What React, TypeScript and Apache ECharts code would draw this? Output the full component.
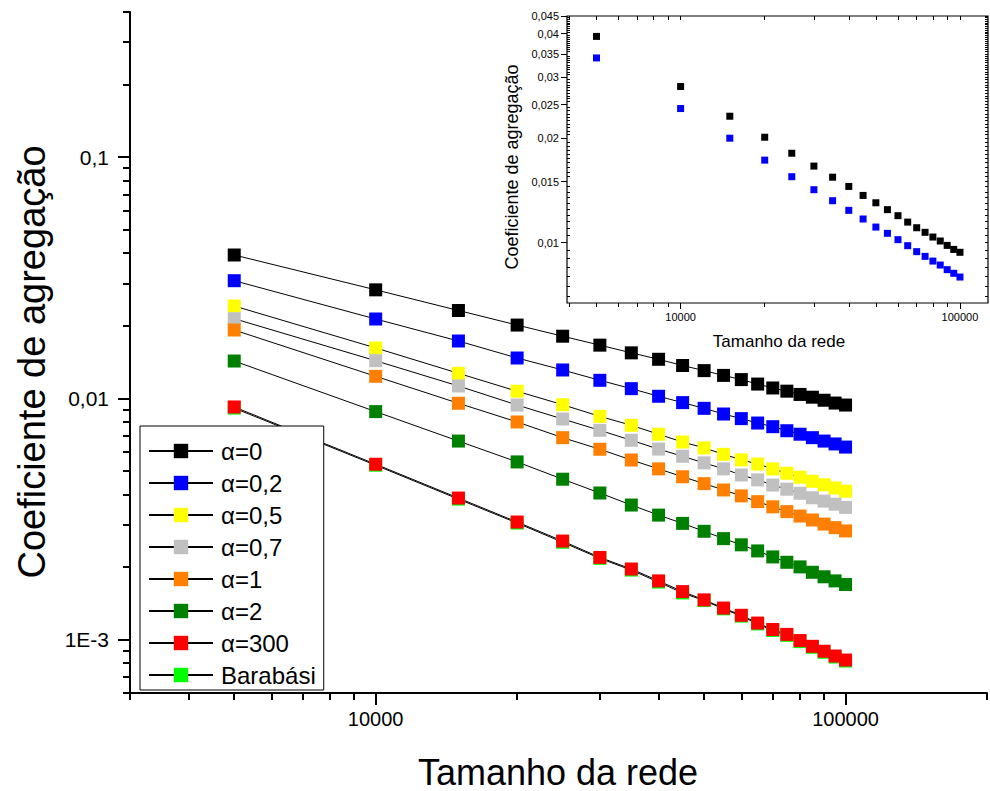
import React, { useEffect, useRef } from "react";
import * as echarts from "echarts";

// ---- data ----
const sizes = [5000, 10000, 15000, 20000, 25000, 30000, 35000, 40000, 45000, 50000, 55000, 60000, 65000, 70000, 75000, 80000, 85000, 90000, 95000, 100000];

const alpha0 = [0.0393, 0.02818, 0.02314, 0.02013, 0.0181, 0.01662, 0.01544, 0.01452, 0.01368, 0.01303, 0.01245, 0.01196, 0.01146, 0.01104, 0.01071, 0.01038, 0.01011, 0.00982, 0.00956, 0.00938];
const alpha02 = [0.03075, 0.02133, 0.01729, 0.0147, 0.01311, 0.01188, 0.01097, 0.0102, 0.0096, 0.00909, 0.00861, 0.00824, 0.0079, 0.00763, 0.00734, 0.0071, 0.00687, 0.00665, 0.00647, 0.00628];
const alpha05 = [0.02415, 0.01618, 0.0127, 0.0107, 0.00941, 0.00842, 0.00773, 0.0071, 0.00659, 0.00623, 0.00586, 0.00556, 0.00534, 0.0051, 0.00489, 0.00471, 0.00453, 0.00438, 0.00425, 0.00412];
const alpha07 = [0.02139, 0.01432, 0.01125, 0.00938, 0.00821, 0.00737, 0.0067, 0.00616, 0.00575, 0.0054, 0.0051, 0.00481, 0.00459, 0.00437, 0.0042, 0.00404, 0.00387, 0.00375, 0.00364, 0.00353];
const alpha1 = [0.0192, 0.01234, 0.00954, 0.00798, 0.00687, 0.00615, 0.00555, 0.0051, 0.00473, 0.00443, 0.00417, 0.00394, 0.00373, 0.00355, 0.00339, 0.00325, 0.00313, 0.00301, 0.00291, 0.00282];
const alpha2 = [0.01428, 0.00881, 0.00665, 0.00545, 0.00462, 0.00405, 0.00361, 0.00328, 0.00303, 0.00281, 0.00262, 0.00247, 0.00233, 0.0022, 0.00209, 0.002, 0.0019, 0.00182, 0.00175, 0.00169];
const alpha300 = [0.00921, 0.00533, 0.00386, 0.00307, 0.00256, 0.00219, 0.00196, 0.00175, 0.00158, 0.00146, 0.00135, 0.00126, 0.00117, 0.0011, 0.00105, 0.00099, 0.000937, 0.000894, 0.000854, 0.000822];
const barabasi = [0.00911, 0.00528, 0.00382, 0.00304, 0.00253, 0.00217, 0.00194, 0.00173, 0.00156, 0.00145, 0.00134, 0.00125, 0.00116, 0.00109, 0.00104, 0.00098, 0.000928, 0.000885, 0.000846, 0.000814];

// inset series
const insetBlack = alpha0;
const insetBlue = [0.03407, 0.02435, 0.02, 0.01729, 0.01549, 0.01421, 0.01321, 0.01239, 0.0117, 0.01109, 0.01064, 0.0102, 0.0098, 0.00942, 0.00913, 0.00885, 0.00862, 0.00836, 0.00816, 0.00796];

const seriesNames = ["α=0", "α=0,2", "α=0,5", "α=0,7", "α=1", "α=2", "α=300", "Barabási"];

// ticks / labels
const mainXMajor = [10000, 100000];
const mainXMajorLabels = ["10000", "100000"];
const mainXMinor = [3000, 4000, 5000, 6000, 7000, 8000, 9000, 20000, 30000, 40000, 50000, 60000, 70000, 80000, 90000, 200000];
const mainYMajor = [0.001, 0.01, 0.1];
const mainYMajorLabels = ["1E-3", "0,01", "0,1"];
const mainYMinor = [0.0006, 0.0007, 0.0008, 0.0009, 0.002, 0.003, 0.004, 0.005, 0.006, 0.007, 0.008, 0.009, 0.02, 0.03, 0.04, 0.05, 0.06, 0.07, 0.08, 0.09, 0.2, 0.3, 0.4];
const insetXMajor = [10000, 100000];
const insetXMajorLabels = ["10000", "100000"];
const insetXMinor = [4000, 5000, 6000, 7000, 8000, 9000, 20000, 30000, 40000, 50000, 60000, 70000, 80000, 90000];
const insetYMajor = [0.01, 0.015, 0.02, 0.025, 0.03, 0.035, 0.04, 0.045];
const insetYMajorLabels = ["0,01", "0,015", "0,02", "0,025", "0,03", "0,035", "0,04", "0,045"];

const L = (v: number) => Math.log10(v);
const FONT = "'Liberation Sans', Arial, sans-serif";

function insetYMinorTicks(): number[] {
  const out: number[] = [];
  for (let k = 14; k <= 89; k++) {
    const v = k * 0.0005;
    if (k % 10 === 0) continue;
    out.push(L(v));
  }
  return out;
}

function labelFor(values: number[], labels: string[]) {
  return (v: number) => {
    for (let i = 0; i < values.length; i++) {
      if (Math.abs(L(values[i]) - v) < 1e-6) return labels[i];
    }
    return "";
  };
}

function axis(o: any) {
  return {
    type: "value",
    gridIndex: o.grid,
    position: o.position,
    min: o.min,
    max: o.max,
    scale: true,
    splitLine: { show: false },
    axisLine: { show: !!o.line, onZero: false, lineStyle: { color: "#000", width: o.lineWidth || 2 } },
    axisTick: {
      show: true,
      inside: !!o.inside,
      length: o.tickLen,
      customValues: o.ticks,
      lineStyle: { color: "#000", width: o.tickWidth || 1 },
    },
    axisLabel: o.labels
      ? {
          show: true,
          customValues: o.labelValues,
          formatter: o.formatter,
          margin: o.margin,
          fontSize: o.fontSize,
          fontFamily: FONT,
          color: "#000",
        }
      : { show: false },
    minorTick: { show: false },
  };
}

export default function App() {
  const ref = useRef<HTMLDivElement>(null);
  useEffect(() => {
    if (!ref.current) return;
    const chart = echarts.init(ref.current, undefined, { renderer: "svg" });

    const mainXMin = L(3000), mainXMax = L(200000);
    const mainYMin = L(0.0006), mainYMax = L(0.4);
    const inXMin = L(3920), inXMax = L(126000);
    const inYMin = L(0.0067), inYMax = L(0.045);

    const xAxis = [
      axis({ grid: 0, position: "bottom", min: mainXMin, max: mainXMax, line: true, tickLen: 12, tickWidth: 2,
        ticks: mainXMajor.map(L), labels: true, labelValues: mainXMajor.map(L),
        formatter: labelFor(mainXMajor, mainXMajorLabels), margin: 16, fontSize: 20 }),
      axis({ grid: 0, position: "bottom", min: mainXMin, max: mainXMax, tickLen: 7, tickWidth: 2, ticks: mainXMinor.map(L) }),
      axis({ grid: 1, position: "bottom", min: inXMin, max: inXMax, tickLen: 6, ticks: insetXMajor.map(L), labels: true,
        labelValues: insetXMajor.map(L), formatter: labelFor(insetXMajor, insetXMajorLabels), margin: 8, fontSize: 11 }),
      axis({ grid: 1, position: "bottom", min: inXMin, max: inXMax, tickLen: 4, ticks: insetXMinor.map(L) }),
      axis({ grid: 1, position: "top", min: inXMin, max: inXMax, tickLen: 4, inside: true,
        ticks: insetXMinor.concat(insetXMajor).map(L) }),
    ];
    const yAxis = [
      axis({ grid: 0, position: "left", min: mainYMin, max: mainYMax, line: true, tickLen: 12, tickWidth: 2,
        ticks: mainYMajor.map(L), labels: true, labelValues: mainYMajor.map(L),
        formatter: labelFor(mainYMajor, mainYMajorLabels), margin: 21, fontSize: 21 }),
      axis({ grid: 0, position: "left", min: mainYMin, max: mainYMax, tickLen: 7, tickWidth: 2, ticks: mainYMinor.map(L) }),
      axis({ grid: 1, position: "left", min: inYMin, max: inYMax, tickLen: 6, ticks: insetYMajor.map(L), labels: true,
        labelValues: insetYMajor.map(L), formatter: labelFor(insetYMajor, insetYMajorLabels), margin: 8, fontSize: 11 }),
      axis({ grid: 1, position: "left", min: inYMin, max: inYMax, tickLen: 3, inside: true, ticks: insetYMinorTicks() }),
      axis({ grid: 1, position: "right", min: inYMin, max: inYMax, tickLen: 3, inside: true,
        ticks: insetYMinorTicks().concat(insetYMajor.map(L)) }),
    ];

    const mainData = [alpha0, alpha02, alpha05, alpha07, alpha1, alpha2, alpha300, barabasi];
    const colors = ["#000000", "#0000ff", "#ffff00", "#c0c0c0", "#ff8000", "#008000", "#ff0000", "#00ff00"];
    // draw Barabási before α=300 so that red squares sit on top
    const order = [0, 1, 2, 3, 4, 5, 7, 6];
    const series: any[] = order.map((i) => ({
      type: "line",
      name: seriesNames[i],
      xAxisIndex: 0,
      yAxisIndex: 0,
      data: sizes.map((x, k) => [L(x), L(mainData[i][k])]),
      symbol: "rect",
      symbolSize: 13,
      showSymbol: true,
      lineStyle: { color: "#000", width: 1 },
      itemStyle: { color: colors[i], opacity: 1 },
      emphasis: { disabled: true },
    }));
    series.push({
      type: "scatter", name: "inset α=0", xAxisIndex: 2, yAxisIndex: 2,
      data: sizes.map((x, k) => [L(x), L(insetBlack[k])]),
      symbol: "rect", symbolSize: 7, itemStyle: { color: "#000000", opacity: 1 }, emphasis: { disabled: true },
    });
    series.push({
      type: "scatter", name: "inset blue", xAxisIndex: 2, yAxisIndex: 2,
      data: sizes.map((x, k) => [L(x), L(insetBlue[k])]),
      symbol: "rect", symbolSize: 7, itemStyle: { color: "#0000ff", opacity: 1 }, emphasis: { disabled: true },
    });

    const txt = (text: string, x: number, y: number, size: number, rot = 0) => ({
      type: "text",
      x, y, rotation: rot,
      style: {
        text, fill: "#000", fontSize: size, fontFamily: FONT,
        align: "center", verticalAlign: "middle", textAlign: "center", textVerticalAlign: "middle",
      },
    });

    chart.setOption({
      animation: false,
      backgroundColor: "#fff",
      grid: [
        { left: 130, top: 12, width: 857, height: 681, containLabel: false },
        { left: 567, top: 16, width: 421, height: 287, show: true, borderColor: "#000", borderWidth: 1.2, backgroundColor: "transparent", containLabel: false },
      ],
      xAxis,
      yAxis,
      legend: {
        data: seriesNames,
        orient: "vertical",
        left: 140,
        top: 426,
        padding: [13, 8, 3, 8],
        itemWidth: 64,
        itemHeight: 18,
        itemGap: 8,
        backgroundColor: "#fff",
        borderColor: "#000",
        borderWidth: 1,
        borderRadius: 0,
        selectedMode: false,
        textStyle: { fontSize: 24, lineHeight: 24, fontFamily: FONT, color: "#000", padding: [0, 0, 0, 3] },
      },
      graphic: [
        txt("Tamanho da rede", 558, 772, 36),
        txt("Coeficiente de agregação", 32, 362, 38, Math.PI / 2),
        txt("Tamanho da rede", 779, 341, 17),
        txt("Coeficiente de agregação", 512, 167, 18, Math.PI / 2),
      ],
      series,
    });
    return () => chart.dispose();
  }, []);
  return <div ref={ref} style={{ position: "fixed", left: 0, top: 0, width: 990, height: 791 }} />;
}
